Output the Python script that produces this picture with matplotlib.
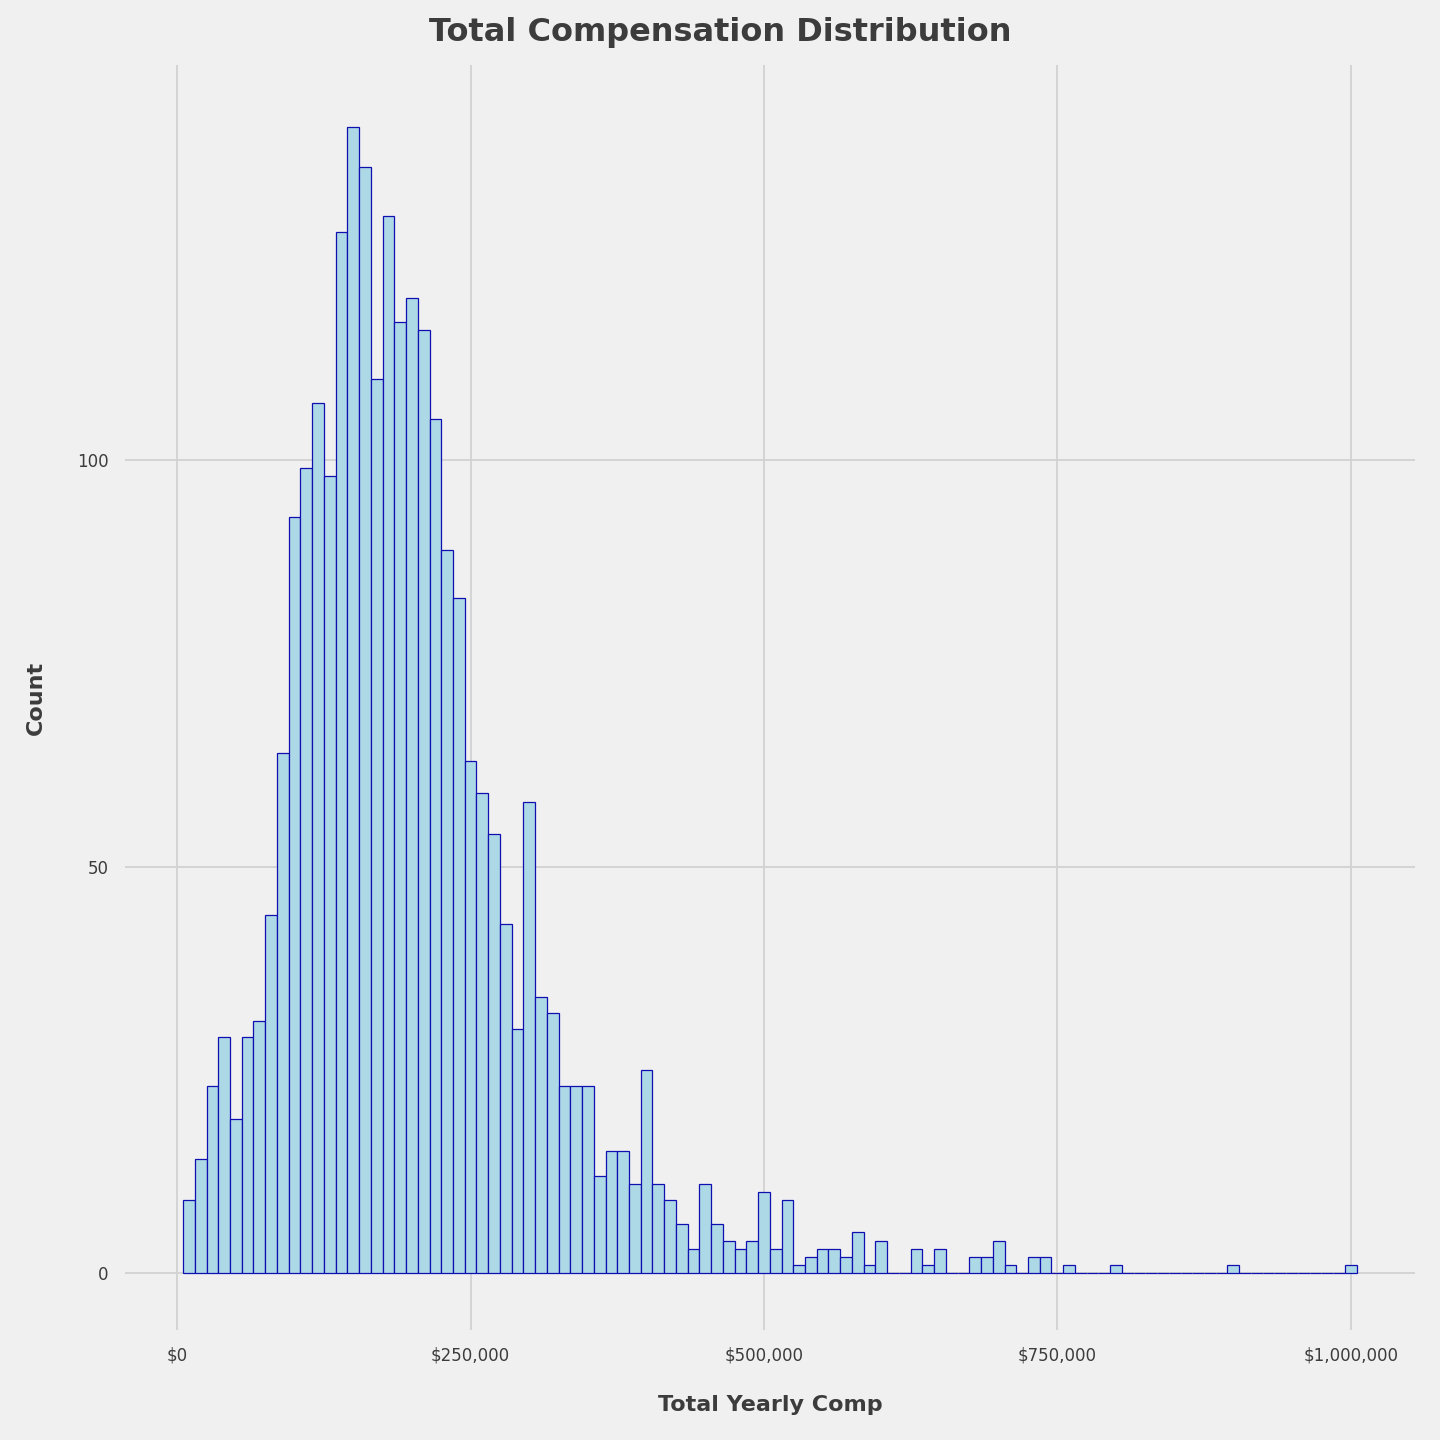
import matplotlib.pyplot as plt
from matplotlib.ticker import FuncFormatter

BIN_CENTERS = [10000 * i for i in range(1, 101)]
COUNTS = [
    9, 14, 23, 29, 19, 29, 31, 44, 64, 93,
    99, 107, 98, 128, 141, 136, 110, 130, 117, 120,
    116, 105, 89, 83, 63, 59, 54, 43, 30, 58,
    34, 32, 23, 23, 23, 12, 15, 15, 11, 25,
    11, 9, 6, 3, 11, 6, 4, 3, 4, 10,
    3, 9, 1, 2, 3, 3, 2, 5, 1, 4,
    0, 0, 3, 1, 3, 0, 0, 2, 2, 4,
    1, 0, 2, 2, 0, 1, 0, 0, 0, 1,
    0, 0, 0, 0, 0, 0, 0, 0, 0, 1,
    0, 0, 0, 0, 0, 0, 0, 0, 0, 1,
]
X_TICKS = [0, 250000, 500000, 750000, 1000000]
Y_TICKS = [0, 50, 100]

BG = "#F0F0F0"
TEXT = "#3C3C3C"

fig = plt.figure(figsize=(14.4, 14.4), dpi=100, facecolor=BG)
ax = fig.add_axes([125 / 1440, 110 / 1440, 1290 / 1440, 1265 / 1440])
ax.set_facecolor(BG)

ax.bar(BIN_CENTERS, COUNTS, width=10000, color="#ADD8E6",
       edgecolor="#1010B0", linewidth=0.9, zorder=3)

ax.set_xlim(-44500, 1054800)
ax.set_ylim(-7, 148.6)
ax.set_xticks(X_TICKS)
ax.set_yticks(Y_TICKS)
ax.xaxis.set_major_formatter(FuncFormatter(lambda v, p: f"${v:,.0f}"))
ax.grid(True, color="#D2D2D2", linewidth=1.3, zorder=0)
for s in ax.spines.values():
    s.set_visible(False)
ax.tick_params(length=0, labelsize=12, colors=TEXT, pad=12)

ax.set_xlabel("Total Yearly Comp", fontsize=16, fontweight="bold", color=TEXT, labelpad=22)
ax.set_ylabel("Count", fontsize=16, fontweight="bold", color=TEXT, labelpad=22)
fig.suptitle("Total Compensation Distribution", fontsize=23, fontweight="bold",
             color=TEXT, y=0.988)

fig.savefig("out.png", dpi=100, facecolor=BG)
